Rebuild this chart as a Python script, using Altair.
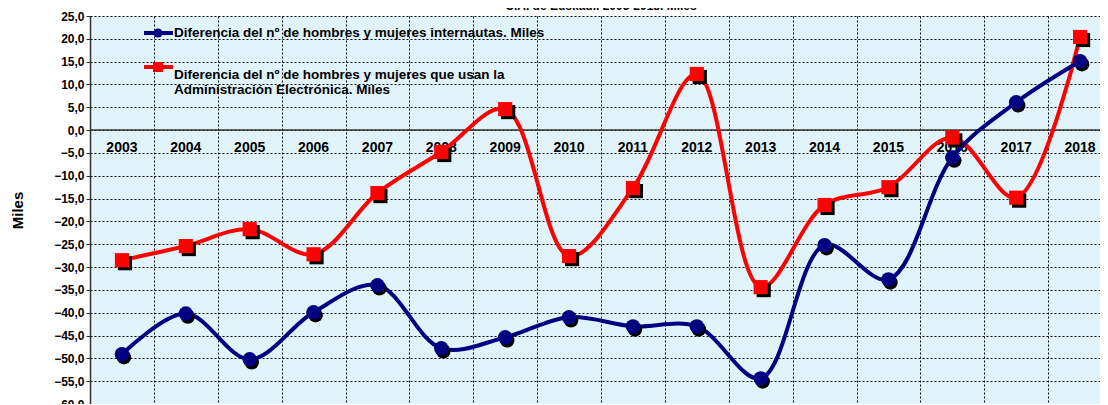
import altair as alt
import pandas as pd

years = [str(y) for y in range(2003, 2019)]
internautas = [-49.1, -40.2, -50.2, -39.9, -34.0, -47.8, -45.4, -41.0, -43.0, -43.0,
               -54.4, -25.2, -32.7, -6.0, 6.1, 15.1]
admin_elec = [-28.5, -25.4, -21.7, -27.2, -13.8, -4.8, 4.6, -27.6, -12.7, 12.3,
              -34.4, -16.4, -12.5, -1.6, -14.8, 20.4]
y_ticks = [float(v) for v in range(-60, 30, 5)]
title_text = "C.A. de Euskadi. 2003-2018. Miles"
legend_1 = "Diferencia del nº de hombres y mujeres internautas. Miles"
legend_2 = ["Diferencia del nº de hombres y mujeres que usan la",
            "Administración Electrónica. Miles"]

NAVY = "#000080"
RED = "#FF0000"
FONT = "Liberation Sans"

df_a = pd.DataFrame({"year": years, "value": internautas})
df_b = pd.DataFrame({"year": years, "value": admin_elec})
df_lab = pd.DataFrame({"year": years, "value": [0.0] * len(years)})

x_axis = alt.Axis(title=None, labels=False, ticks=False, domain=False,
                  grid=True, tickBand="extent", gridDash=[2, 2],
                  gridColor="#000000", gridOpacity=1, gridWidth=1)
y_axis = alt.Axis(title="Miles", values=y_ticks, tickCount=18,
                  labelExpr="replace(format(datum.value, '.1f'), '.', ',')",
                  labelOverlap=False, labelFlush=False,
                  labelFont=FONT, labelFontSize=12, labelFontWeight="bold",
                  labelColor="#000000", labelPadding=2,
                  titleFont=FONT, titleFontSize=15, titleFontWeight="bold",
                  titleColor="#000000", titleX=-73, titleY=194,
                  titleAngle=270, titleAlign="center", titleBaseline="middle",
                  grid=True, gridDash=[2, 2], gridColor="#000000",
                  gridOpacity=1, gridWidth=1,
                  domainColor="#333333", domainWidth=1.5,
                  tickColor="#333333", tickSize=4)

x_enc = alt.X("year:N", sort=years,
              scale=alt.Scale(type="band", paddingInner=0, paddingOuter=0),
              axis=x_axis)
y_enc = alt.Y("value:Q",
              scale=alt.Scale(domain=[-60, 25], nice=False, zero=False),
              axis=y_axis)

base_a = alt.Chart(df_a)
base_b = alt.Chart(df_b)

zero_rule = alt.Chart(pd.DataFrame({"value": [0.0]})).mark_rule(
    color="#333333", strokeWidth=1.5).encode(y=y_enc)

line_a = base_a.mark_line(interpolate="catmull-rom", color=NAVY, strokeWidth=4).encode(
    x=x_enc, y=y_enc)
line_b = base_b.mark_line(interpolate="catmull-rom", color=RED, strokeWidth=4).encode(
    x=x_enc, y=y_enc)

shadow_a = base_a.mark_point(shape="circle", filled=True, color="#000000", opacity=1,
                             size=210, xOffset=2, yOffset=3).encode(x=x_enc, y=y_enc)
pts_a = base_a.mark_point(shape="circle", filled=True, color=NAVY, opacity=1,
                          size=210).encode(x=x_enc, y=y_enc)
shadow_b = base_b.mark_point(shape="square", filled=True, color="#000000", opacity=1,
                             size=200, xOffset=3, yOffset=3).encode(x=x_enc, y=y_enc)
pts_b = base_b.mark_point(shape="square", filled=True, color=RED, opacity=1,
                          size=200).encode(x=x_enc, y=y_enc)

year_labels = alt.Chart(df_lab).mark_text(font=FONT, fontSize=14, fontWeight="bold",
                                          color="#000000", dy=18).encode(
    x=x_enc, y=y_enc, text="year:N")

title_mark = alt.Chart(pd.DataFrame({"t": [title_text]})).mark_text(
    font=FONT, fontSize=12, fontWeight="bold", color="#000000",
    baseline="bottom").encode(x=alt.value(511), y=alt.value(-3), text="t:N")

leg_df = pd.DataFrame({"a": [0]})
leg_line_a = alt.Chart(leg_df).mark_rule(color=NAVY, strokeWidth=4).encode(
    x=alt.value(54), x2=alt.value(83), y=alt.value(17))
leg_pt_a = alt.Chart(leg_df).mark_point(shape="circle", filled=True, color=NAVY,
                                        opacity=1, size=85).encode(
    x=alt.value(68), y=alt.value(17))
leg_txt_a = alt.Chart(pd.DataFrame({"t": [legend_1]})).mark_text(
    font=FONT, fontSize=13.5, fontWeight="bold", color="#000000", align="left").encode(
    x=alt.value(84), y=alt.value(17), text="t:N")
leg_line_b = alt.Chart(leg_df).mark_rule(color=RED, strokeWidth=4).encode(
    x=alt.value(54), x2=alt.value(83), y=alt.value(51))
leg_pt_b = alt.Chart(leg_df).mark_point(shape="square", filled=True, color=RED,
                                        opacity=1, size=100).encode(
    x=alt.value(68), y=alt.value(51))
leg_txt_b = alt.Chart(pd.DataFrame({"t": [legend_2]})).mark_text(
    font=FONT, fontSize=13.5, fontWeight="bold", color="#000000", align="left",
    baseline="middle", lineHeight=15).encode(
    x=alt.value(84), y=alt.value(58.5), text="t")

chart = alt.layer(
    zero_rule, year_labels,
    line_b, line_a,
    shadow_a, pts_a, shadow_b, pts_b,
    leg_line_a, leg_pt_a, leg_txt_a, leg_line_b, leg_pt_b, leg_txt_b,
    title_mark,
).properties(
    width=1022, height=388,
    autosize=alt.AutoSizeParams(type="none"),
    padding={"left": 82, "top": 8, "right": -12, "bottom": 0},
    background="#FFFFFF",
).configure_view(
    fill="#E2F4FB", stroke=None,
)

chart.save("out.html", embed_options={"renderer": "svg", "actions": False})
